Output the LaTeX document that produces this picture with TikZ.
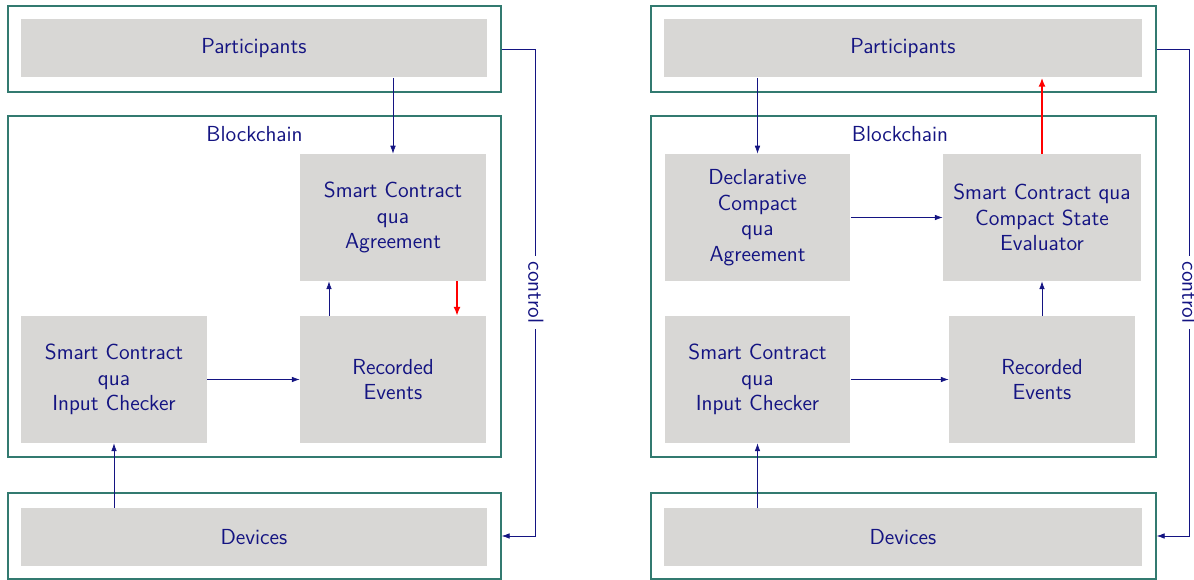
\documentclass[tikz,border=0pt]{standalone}
\usepackage{tikz}
\usetikzlibrary{arrows.meta}
\definecolor{navytext}{RGB}{20,20,130}
\definecolor{frameteal}{RGB}{50,122,112}
\definecolor{boxgray}{RGB}{216,215,213}

\begin{document}
\begin{tikzpicture}[x=0.02cm,y=-0.02cm,>=Latex,
  frame/.style={draw=frameteal,line width=0.9pt,inner sep=0pt},
  box/.style={fill=boxgray,text=navytext,align=center,inner sep=0pt,
    minimum width=3.72cm,minimum height=2.54cm,font=\sffamily\fontsize{12.4}{14.5}\selectfont},
  wide/.style={box,minimum height=1.16cm},
  flow/.style={navytext,-{Latex[length=4.5pt,width=3.2pt]}},
  hot/.style={red,line width=0.9pt,-{Latex[length=5pt,width=4pt]}},
  lbl/.style={text=navytext,font=\sffamily\fontsize{12.4}{14.5}\selectfont}]
\useasboundingbox (0,0) rectangle (1194,580);

% left: contract as agreement
\node[frame,minimum width=9.86cm,minimum height=1.72cm] (lpo) at (254.5,49) {};
\node[wide,minimum width=9.32cm] (lpi) at (254,48.5) {Participants};
\node[frame,minimum width=9.86cm,minimum height=6.82cm] (lbk) at (254.5,286.5) {};
\node[lbl] (lbl) at (254.5,134) {Blockchain};
\node[box] (lag) at (393,217.5) {Smart Contract\\qua\\Agreement};
\node[box] (lre) at (393,379.5) {Recorded\\Events};
\node[box] (lic) at (114,379.5) {Smart Contract\\qua\\Input Checker};
\node[frame,minimum width=9.86cm,minimum height=1.72cm] (ldo) at (254.5,536) {};
\node[wide,minimum width=9.32cm] (ldi) at (254,537) {Devices};

\draw[flow] (lpi.south -| lag) -- (lag.north);
\draw[flow] ([shift={(-64,0)}]lre.north) -- ([shift={(-64,0)}]lag.south);
\draw[hot] ([shift={(64,0)}]lag.south) -- ([shift={(64,0)}]lre.north);
\draw[flow] (lic) -- (lre);
\draw[flow] (ldi.north -| lic) -- (lic.south);
\draw[flow] (lpo.east) -- ++(34,0) |- node[lbl,pos=0.25,rotate=-90,fill=white]{control} (ldo.east);

% right: compact state evaluator
\node[frame,minimum width=10.1cm,minimum height=1.72cm] (rpo) at (903.5,49) {};
\node[wide,minimum width=9.56cm] (rpi) at (903,48.5) {Participants};
\node[frame,minimum width=10.1cm,minimum height=6.82cm] (rbk) at (903.5,286.5) {};
\node[lbl] (rbl) at (900,134) {Blockchain};
\node[box] (rdc) at (757.5,217.5) {Declarative\\Compact\\qua\\Agreement};
\node[box,minimum width=3.96cm] (rev) at (1042,217.5) {Smart Contract qua\\Compact State\\Evaluator};
\node[box] (ric) at (757.5,379.5) {Smart Contract\\qua\\Input Checker};
\node[box] (rre) at (1042,379.5) {Recorded\\Events};
\node[frame,minimum width=10.1cm,minimum height=1.72cm] (rdo) at (903.5,536) {};
\node[wide,minimum width=9.56cm] (rdi) at (903,537) {Devices};

\draw[flow] (rpi.south -| rdc) -- (rdc.north);
\draw[flow] (rdc) -- (rev);
\draw[hot] (rev.north) -- (rev.north |- rpi.south);
\draw[flow] (rre.north) -- (rev.south);
\draw[flow] (ric) -- (rre);
\draw[flow] (rdi.north -| ric) -- (ric.south);
\draw[flow] (rpo.east) -- ++(33,0) |- node[lbl,pos=0.25,rotate=-90,fill=white]{control} (rdo.east);
\end{tikzpicture}
\end{document}
